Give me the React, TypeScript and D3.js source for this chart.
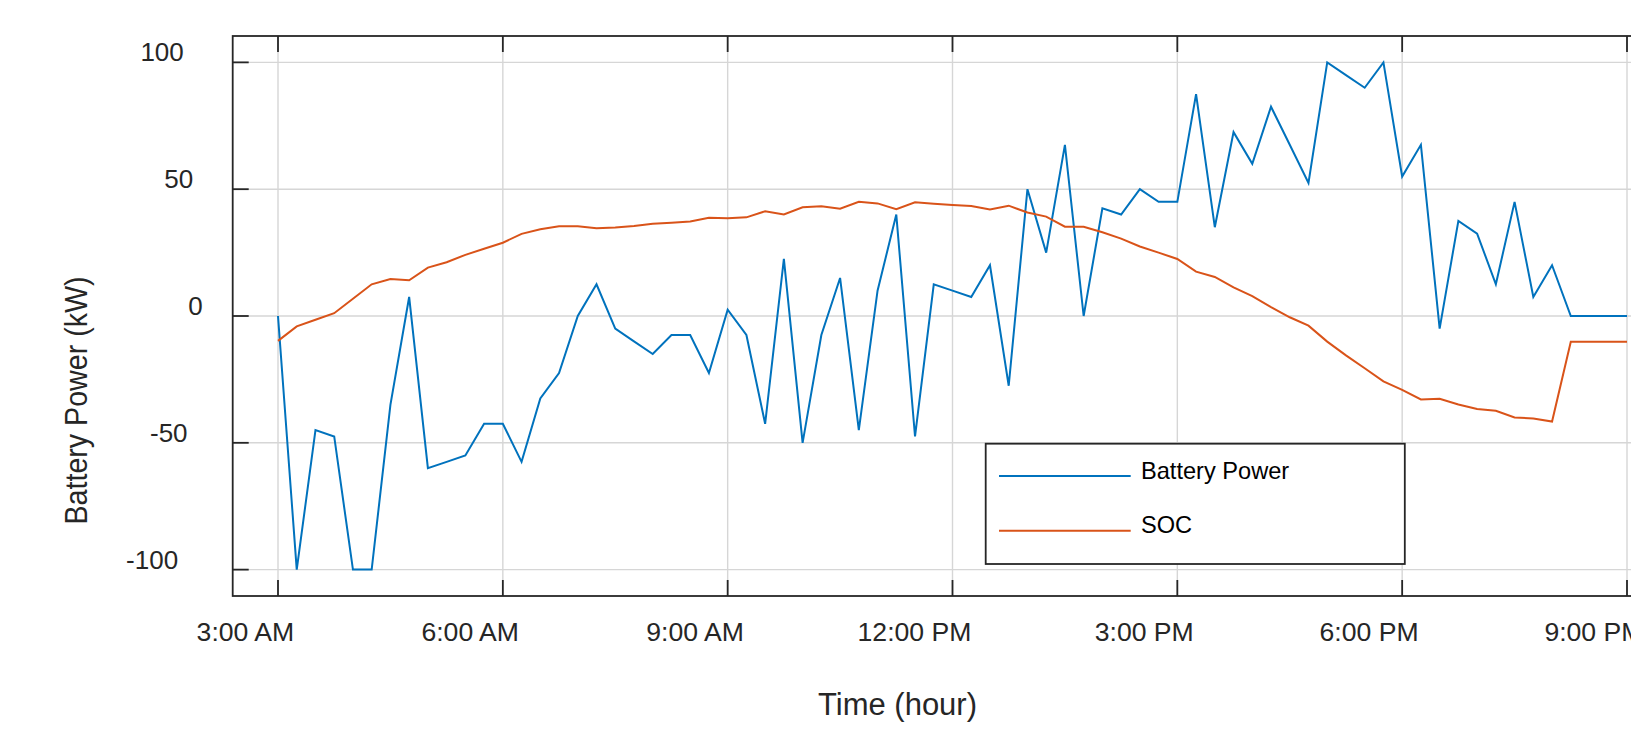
import React, { useEffect, useRef } from 'react';
import * as d3 from 'd3';

// 15-minute samples from 3:00 AM to 9:00 PM
const batteryPower = [
  0, -100, -45, -47.5, -100, -100, -35, 7.5, -60, -57.5,
  -55, -42.5, -42.5, -57.5, -32.5, -22.5, 0, 12.5, -5, -10,
  -15, -7.5, -7.5, -22.5, 2.5, -7.5, -42.5, 22.5, -50, -7.5,
  15, -45, 10, 40, -47.5, 12.5, 10, 7.5, 20, -27.5,
  50, 25, 67.5, 0, 42.5, 40, 50, 45, 45, 87.5,
  35, 72.5, 60, 82.5, 67.5, 52.5, 100, 95, 90, 100,
  55, 67.5, -5, 37.5, 32.5, 12.5, 45, 7.5, 20, 0,
  0, 0, 0,
];
const soc = [
  -9.8, -4.1, -1.5, 1.1, 6.8, 12.5, 14.6, 14.1, 19.1, 21.2,
  24.1, 26.5, 28.9, 32.4, 34.2, 35.4, 35.4, 34.6, 34.9, 35.5,
  36.4, 36.8, 37.3, 38.7, 38.5, 38.9, 41.3, 40, 42.9, 43.3,
  42.3, 45, 44.4, 42.1, 44.8, 44.3, 43.8, 43.4, 42, 43.5,
  40.8, 39.2, 35.2, 35.2, 33, 30.5, 27.4, 25, 22.5, 17.5,
  15.4, 11.3, 7.8, 3.5, -0.5, -3.8, -10.1, -15.5, -20.6, -25.8,
  -29.1, -32.9, -32.6, -34.9, -36.7, -37.4, -40, -40.4, -41.6, -10.2,
  -10.2, -10.2, -10.2,
];
const startTime = new Date(2024, 0, 1, 3, 0);
const stepMinutes = 15;
const xTickHours = [3, 6, 9, 12, 15, 18, 21];
const xTickLabels = ['3:00 AM', '6:00 AM', '9:00 AM', '12:00 PM', '3:00 PM', '6:00 PM', '9:00 PM'];
const yTicks = [-100, -50, 0, 50, 100];
const seriesNames = ['Battery Power', 'SOC'];
const seriesColors = ['#0072BD', '#D95319'];

const W = 1631;
const H = 729;
const FONT = '"Liberation Sans", Arial, Helvetica, sans-serif';
const AXIS = '#262626';

const App = () => {
  const ref = useRef(null);

  useEffect(() => {
    if (!ref.current) return;
    const svg = d3.select(ref.current);
    svg.selectAll('*').remove();

    const left = 232.7, right = 1672.3, top = 36, bottom = 596;
    const x = d3.scaleTime()
      .domain([new Date(2024, 0, 1, 2, 23, 44), new Date(2024, 0, 1, 21, 36, 16)])
      .range([left, right]);
    const y = d3.scaleLinear().domain([-110.4, 110.4]).range([bottom, top]);

    const times = batteryPower.map((_, i) => d3.timeMinute.offset(startTime, i * stepMinutes));
    const tickDates = xTickHours.map(h => new Date(2024, 0, 1, h, 0));

    svg.append('rect').attr('width', W).attr('height', H).attr('fill', '#fff');

    // grid
    const grid = svg.append('g').attr('stroke', '#d6d6d6').attr('stroke-width', 1.4);
    tickDates.forEach(d => {
      grid.append('line').attr('x1', x(d)).attr('x2', x(d)).attr('y1', top).attr('y2', bottom);
    });
    yTicks.forEach(v => {
      grid.append('line').attr('x1', left).attr('x2', right).attr('y1', y(v)).attr('y2', y(v));
    });

    // series
    const line = d3.line<number>()
      .x((_, i) => x(times[i]))
      .y(d => y(d));
    [batteryPower, soc].forEach((s, k) => {
      svg.append('path')
        .datum(s)
        .attr('d', line)
        .attr('fill', 'none')
        .attr('stroke', seriesColors[k])
        .attr('stroke-width', 2)
        .attr('stroke-linejoin', 'miter');
    });

    // box and ticks
    svg.append('rect')
      .attr('x', left).attr('y', top)
      .attr('width', right - left).attr('height', bottom - top)
      .attr('fill', 'none').attr('stroke', AXIS).attr('stroke-width', 1.8);
    const ticks = svg.append('g').attr('stroke', AXIS).attr('stroke-width', 1.8);
    tickDates.forEach(d => {
      ticks.append('line').attr('x1', x(d)).attr('x2', x(d)).attr('y1', bottom).attr('y2', bottom - 16);
      ticks.append('line').attr('x1', x(d)).attr('x2', x(d)).attr('y1', top).attr('y2', top + 16);
    });
    yTicks.forEach(v => {
      ticks.append('line').attr('x1', left).attr('x2', left + 16).attr('y1', y(v)).attr('y2', y(v));
    });

    // x tick labels
    tickDates.forEach((d, i) => {
      const t = svg.append('text')
        .attr('y', 641)
        .attr('font-family', FONT)
        .attr('font-size', 26.6)
        .attr('fill', AXIS)
        .text(xTickLabels[i]);
      const w = (t.node() as SVGTextElement).getComputedTextLength();
      t.attr('x', x(d) - 0.834 * w);
    });

    // y tick labels
    yTicks.forEach(v => {
      const t = svg.append('text')
        .attr('y', y(v) - 1)
        .attr('font-family', FONT)
        .attr('font-size', 26)
        .attr('fill', AXIS)
        .text(String(v));
      const w = (t.node() as SVGTextElement).getComputedTextLength();
      t.attr('x', 212 - 1.65 * w);
    });

    // axis labels
    svg.append('text')
      .attr('x', 897.5).attr('y', 715)
      .attr('text-anchor', 'middle')
      .attr('font-family', FONT).attr('font-size', 31)
      .attr('fill', AXIS)
      .text('Time (hour)');
    svg.append('text')
      .attr('transform', 'translate(86.5,400.5) rotate(-90)')
      .attr('text-anchor', 'middle')
      .attr('font-family', FONT).attr('font-size', 32)
      .attr('textLength', 248).attr('lengthAdjust', 'spacingAndGlyphs')
      .attr('fill', AXIS)
      .text('Battery Power (kW)');

    // legend
    const lg = svg.append('g');
    lg.append('rect')
      .attr('x', 985.7).attr('y', 443.7).attr('width', 419.1).attr('height', 120.3)
      .attr('fill', '#fff').attr('stroke', AXIS).attr('stroke-width', 1.8);
    seriesNames.forEach((name, k) => {
      const ly = 476 + k * 54.7;
      lg.append('line')
        .attr('x1', 999).attr('x2', 1130.7).attr('y1', ly).attr('y2', ly)
        .attr('stroke', seriesColors[k]).attr('stroke-width', 2);
      lg.append('text')
        .attr('x', 1141).attr('y', ly + 2.5)
        .attr('font-family', FONT).attr('font-size', 23.6)
        .attr('fill', '#000')
        .text(name);
    });
  }, []);

  return (
    <svg
      ref={ref}
      width={W}
      height={H}
      style={{ position: 'absolute', left: 0, top: 0, display: 'block' }}
    />
  );
};

export default App;
